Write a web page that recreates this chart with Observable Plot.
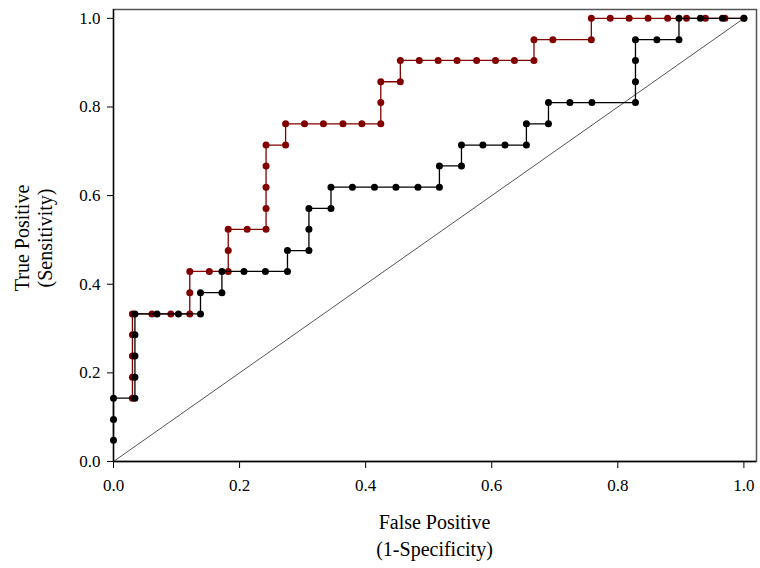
<!DOCTYPE html>
<html><head><meta charset="utf-8">
<script src="https://cdn.jsdelivr.net/npm/d3@7"></script>
<script src="https://cdn.jsdelivr.net/npm/@observablehq/plot@0.6"></script>
<style>body{margin:0;background:#fff} #chart{width:760px;height:568px}</style>
</head><body><div id="chart"></div>
<script>
// Red ROC curve (false positive rate, true positive rate)
const redFPR = [0.030,0.030,0.030,0.030,0.030,0.061,0.091,0.121,0.121,0.121,0.152,0.182,0.182,0.182,0.212,0.242,0.242,0.242,0.242,0.242,0.273,0.273,0.303,0.333,0.364,0.394,0.424,0.424,0.424,0.455,0.455,0.485,0.515,0.545,0.576,0.606,0.636,0.667,0.667,0.697,0.758,0.758,0.788,0.818,0.848,0.879,0.909,0.939,0.970,1.000];
const redTPR = [0.143,0.190,0.238,0.286,0.333,0.333,0.333,0.333,0.381,0.429,0.429,0.429,0.476,0.524,0.524,0.524,0.571,0.619,0.667,0.714,0.714,0.762,0.762,0.762,0.762,0.762,0.762,0.810,0.857,0.857,0.905,0.905,0.905,0.905,0.905,0.905,0.905,0.905,0.952,0.952,0.952,1.000,1.000,1.000,1.000,1.000,1.000,1.000,1.000,1.000];
// Black ROC curve
const blackFPR = [0,0,0,0.034,0.034,0.034,0.034,0.034,0.069,0.103,0.138,0.138,0.172,0.172,0.207,0.241,0.276,0.276,0.310,0.310,0.310,0.345,0.345,0.379,0.414,0.448,0.483,0.517,0.517,0.552,0.552,0.586,0.621,0.655,0.655,0.690,0.690,0.724,0.759,0.828,0.828,0.828,0.828,0.862,0.897,0.897,0.931,0.966,1.000];
const blackTPR = [0.048,0.095,0.143,0.143,0.190,0.238,0.286,0.333,0.333,0.333,0.333,0.381,0.381,0.429,0.429,0.429,0.429,0.476,0.476,0.524,0.571,0.571,0.619,0.619,0.619,0.619,0.619,0.619,0.667,0.667,0.714,0.714,0.714,0.714,0.762,0.762,0.810,0.810,0.810,0.810,0.857,0.905,0.952,0.952,0.952,1.000,1.000,1.000,1.000];
// Chance line
const diagFPR = [0, 1];
const diagTPR = [0, 1];
// Ticks and titles
const tickValues = [0, 0.2, 0.4, 0.6, 0.8, 1.0];
const tickLabels = ["0.0", "0.2", "0.4", "0.6", "0.8", "1.0"];
const xTitle = ["False Positive", "(1-Specificity)"];
const yTitle = ["True Positive", "(Sensitivity)"];

const red = redFPR.map((x, i) => ({x, y: redTPR[i]}));
const black = blackFPR.map((x, i) => ({x, y: blackTPR[i]}));
const diag = diagFPR.map((x, i) => ({x, y: diagTPR[i]}));

const RED = "#820000";
const FONT = "'Liberation Serif', 'Times New Roman', serif";

const chart = Plot.plot({
  width: 760, height: 568,
  marginLeft: 113, marginRight: 4, marginTop: 9, marginBottom: 107,
  x: {domain: [0, 1.02]},
  y: {domain: [0, 1.02]},
  style: {fontFamily: FONT, fontSize: "17px", color: "#000", background: "#fff"},
  marks: [
    Plot.frame({stroke: "#555", strokeWidth: 1.5}),
    Plot.line(diag, {x: "x", y: "y", stroke: "#555", strokeWidth: 1}),
    Plot.line(red, {x: "x", y: "y", stroke: RED, strokeWidth: 1.3}),
    Plot.dot(red, {x: "x", y: "y", r: 3.5, fill: RED, stroke: "none"}),
    Plot.line(black, {x: "x", y: "y", stroke: "#000", strokeWidth: 1.3}),
    Plot.dot(black, {x: "x", y: "y", r: 3.5, fill: "#000", stroke: "none"}),
    Plot.ruleX([0], {stroke: "#000", strokeWidth: 1.3}),
    Plot.ruleY([0], {stroke: "#000", strokeWidth: 1.3}),
    Plot.axisX({ticks: tickValues, tickFormat: (d, i) => tickLabels[i], tickSize: 7, tickPadding: 10, label: null, fontSize: 17, stroke: "#000"}),
    Plot.axisY({ticks: tickValues, tickFormat: (d, i) => tickLabels[i], tickSize: 6, tickPadding: 7, label: null, fontSize: 17, stroke: "#000"})
  ]
});

const svg = d3.select(chart);
const cx = (113 + 756) / 2;
svg.append("text").attr("x", cx).attr("y", 529).attr("text-anchor", "middle")
  .attr("font-family", FONT).attr("font-size", 20).attr("fill", "#000").text(xTitle[0]);
svg.append("text").attr("x", cx).attr("y", 556).attr("text-anchor", "middle")
  .attr("font-family", FONT).attr("font-size", 20).attr("fill", "#000").text(xTitle[1]);
svg.append("text").attr("transform", "translate(29,238) rotate(-90)").attr("text-anchor", "middle")
  .attr("font-family", FONT).attr("font-size", 20).attr("fill", "#000").text(yTitle[0]);
svg.append("text").attr("transform", "translate(52,238) rotate(-90)").attr("text-anchor", "middle")
  .attr("font-family", FONT).attr("font-size", 20).attr("fill", "#000").text(yTitle[1]);

document.getElementById("chart").appendChild(chart);
</script>
</body></html>
